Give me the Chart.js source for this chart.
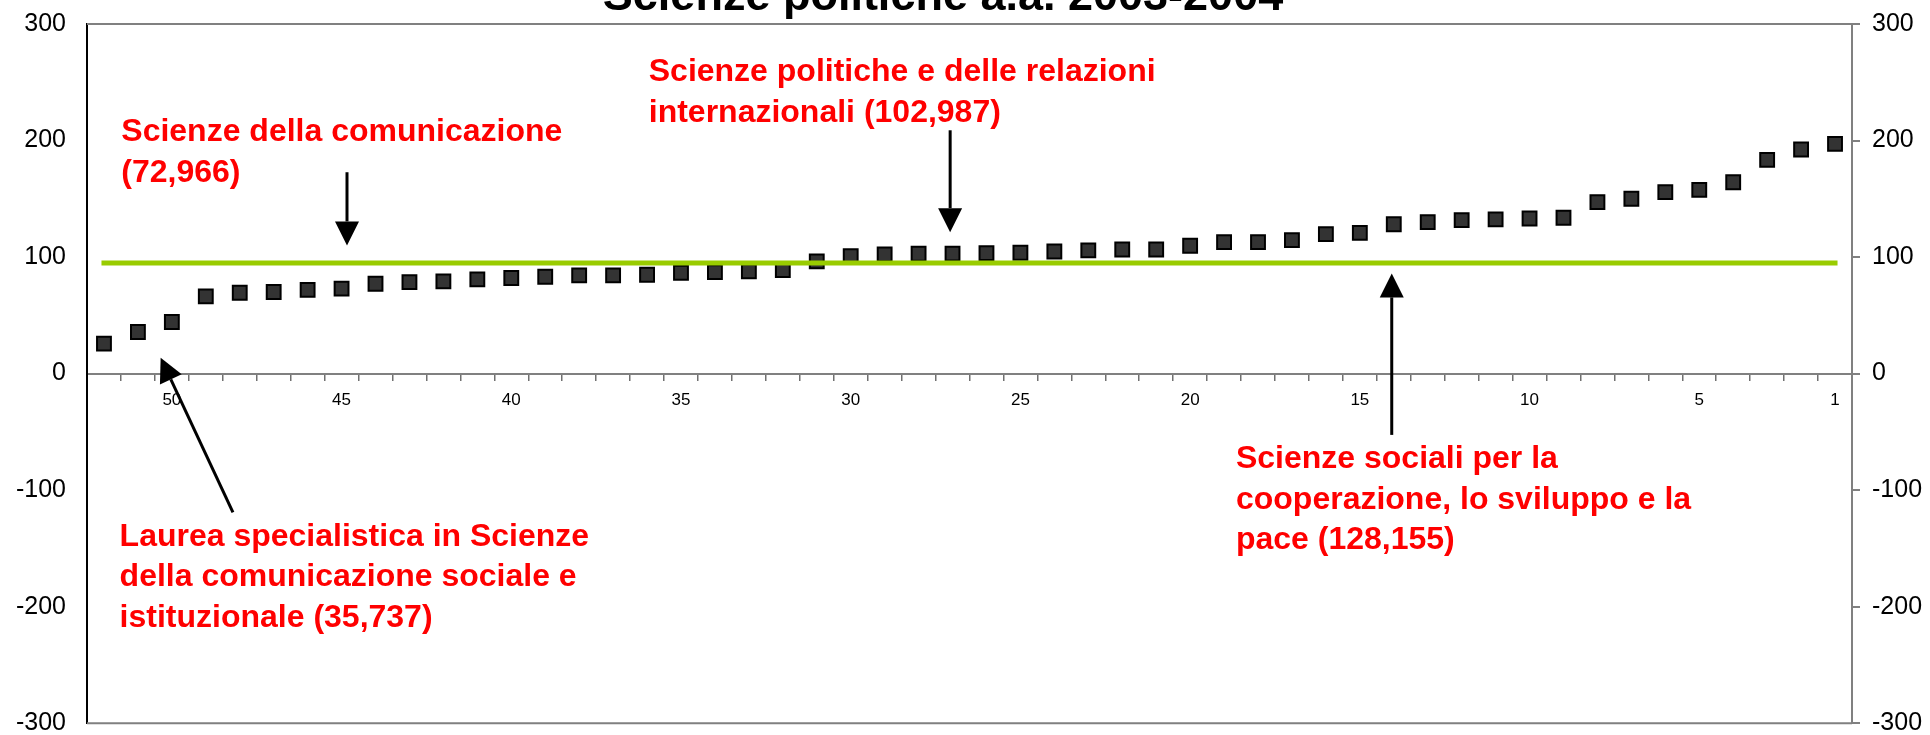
<!DOCTYPE html>
<html>
<head>
<meta charset="utf-8">
<script src="https://cdn.jsdelivr.net/npm/chart.js@4.4.1/dist/chart.umd.min.js"></script>
<style>
  html, body { margin: 0; padding: 0; background: #fff; }
</style>
</head>
<body>
<canvas id="myCanvas" width="1930" height="735"></canvas>
<script>
// ranks, from last (52) to first (1)
const ranks = ['52', '51', '50', '49', '48', '47', '46', '45', '44', '43', '42', '41', '40',
  '39', '38', '37', '36', '35', '34', '33', '32', '31', '30', '29', '28', '27', '26', '25',
  '24', '23', '22', '21', '20', '19', '18', '17', '16', '15', '14', '13', '12', '11', '10',
  '9', '8', '7', '6', '5', '4', '3', '2', '1'];
const values = [25.7, 35.737, 44.3, 66.3, 69.4, 70.0, 71.9, 72.966, 77.1, 78.5, 79.1, 80.8, 82.0,
  83.1, 84.3, 84.3, 84.8, 86.5, 87.1, 87.7, 88.8, 96.3, 100.8, 102.3, 102.8, 102.987, 103.4, 103.7,
  104.8, 105.7, 106.5, 106.5, 109.7, 112.8, 112.8, 114.5, 119.7, 120.8, 128.155, 130.0, 131.7, 132.3, 133.1,
  133.7, 147.1, 150.0, 155.7, 157.7, 164.2, 183.4, 192.3, 197.1];
const refValue = 95;
const xTickLabels = ['50', '45', '40', '35', '30', '25', '20', '15', '10', '5', '1'];
const yTicks = [-300, -200, -100, 0, 100, 200, 300];
const titleText = 'Scienze politiche a.a. 2003-2004';

// notes: position in [category index, value]
const notes = [
  { lines: ['Scienze della comunicazione', '(72,966)'], at: [0.51, 199.4] },
  { lines: ['Scienze politiche e delle relazioni', 'internazionali (102,987)'], at: [16.05, 250.8] },
  { lines: ['Laurea specialistica in Scienze', 'della comunicazione sociale e', 'istituzionale (35,737)'], at: [0.46, -147.8] },
  { lines: ['Scienze sociali per la', 'cooperazione, lo sviluppo e la', 'pace (128,155)'], at: [33.35, -81.4] }
];
const arrows = [
  { from: [7.16, 172.8], to: [7.16, 110.0] },
  { from: [24.93, 208.8], to: [24.93, 121.4] },
  { from: [3.80, -119.1], to: [1.67, 13.7] },
  { from: [37.94, -52.6], to: [37.94, 86.0] }
];

const FONT = "'Liberation Sans', Arial, sans-serif";

function drawArrow(ctx, x1, y1, x2, y2) {
  const a = Math.atan2(y2 - y1, x2 - x1);
  const hl = 24, hw = 12;
  const bx = x2 - hl * Math.cos(a), by = y2 - hl * Math.sin(a);
  ctx.beginPath();
  ctx.moveTo(x1, y1);
  ctx.lineTo(bx, by);
  ctx.stroke();
  ctx.beginPath();
  ctx.moveTo(x2, y2);
  ctx.lineTo(bx + hw * Math.sin(a), by - hw * Math.cos(a));
  ctx.lineTo(bx - hw * Math.sin(a), by + hw * Math.cos(a));
  ctx.closePath();
  ctx.fill();
}

const decor = {
  id: 'decor',
  beforeDatasetsDraw(chart) {
    const { ctx, chartArea: ca } = chart;
    ctx.save();
    ctx.strokeStyle = '#808080';
    ctx.lineWidth = 2;
    ctx.beginPath();
    ctx.moveTo(ca.left, ca.top);
    ctx.lineTo(ca.right, ca.top);
    ctx.moveTo(ca.left, ca.bottom);
    ctx.lineTo(ca.right, ca.bottom);
    ctx.stroke();
    ctx.restore();
  },
  afterDraw(chart) {
    const { ctx, scales } = chart;
    const px = p => [scales.x.getPixelForValue(p[0]), scales.y.getPixelForValue(p[1])];
    ctx.save();
    ctx.fillStyle = '#000';
    ctx.font = 'bold 45px ' + FONT;
    ctx.textAlign = 'center';
    ctx.textBaseline = 'alphabetic';
    ctx.fillText(titleText, 943, 10);

    ctx.fillStyle = '#FF0000';
    ctx.font = 'bold 32px ' + FONT;
    ctx.textAlign = 'left';
    notes.forEach(n => {
      const [x, y] = px(n.at);
      n.lines.forEach((l, i) => ctx.fillText(l, x, y + i * 40.5));
    });

    ctx.strokeStyle = '#000';
    ctx.fillStyle = '#000';
    ctx.lineWidth = 3;
    arrows.forEach(a => {
      const [x1, y1] = px(a.from);
      const [x2, y2] = px(a.to);
      drawArrow(ctx, x1, y1, x2, y2);
    });
    ctx.restore();
  }
};

const yAxisBase = {
  type: 'linear',
  min: -300,
  max: 300,
  afterBuildTicks: s => { s.ticks = yTicks.map(v => ({ value: v })); },
  ticks: { color: '#000', font: { family: FONT, size: 25 } }
};

new Chart(document.getElementById('myCanvas'), {
  data: {
    labels: ranks,
    datasets: [
      {
        type: 'line',
        data: [{ x: ranks[0], y: refValue }, { x: ranks[ranks.length - 1], y: refValue }],
        borderColor: '#99CC00',
        borderWidth: 5,
        borderCapStyle: 'square',
        pointRadius: 0
      },
      {
        type: 'scatter',
        data: values,
        showLine: false,
        pointStyle: 'rect',
        pointRadius: 9.8,
        pointBorderWidth: 2,
        pointBackgroundColor: '#333333',
        pointBorderColor: '#000000'
      }
    ]
  },
  options: {
    responsive: false,
    animation: false,
    layout: { padding: { top: 24, bottom: 10.5, left: 0, right: 0 } },
    plugins: { legend: false, tooltip: { enabled: false } },
    scales: {
      x: {
        type: 'category',
        labels: ranks,
        offset: true,
        position: { y: 0 },
        grid: { offset: true, drawOnChartArea: false, drawTicks: true, tickLength: 6, color: '#707070', lineWidth: 1.5 },
        border: { display: true, color: '#808080', width: 2 },
        ticks: {
          autoSkip: false,
          maxRotation: 0,
          padding: 11,
          color: '#000',
          font: { family: FONT, size: 17 },
          callback: function (v) {
            const lab = this.getLabelForValue(v);
            return xTickLabels.includes(lab) ? lab : '';
          }
        },
        afterFit: s => { s.paddingLeft = 0; s.paddingRight = 0; }
      },
      y: {
        ...yAxisBase,
        position: 'left',
        grid: { drawOnChartArea: false, drawTicks: false },
        border: { display: true, color: '#000', width: 2 },
        ticks: { ...yAxisBase.ticks, padding: 21 },
        afterFit: s => { s.width = 87; s.paddingTop = 0; s.paddingBottom = 0; }
      },
      y2: {
        ...yAxisBase,
        position: 'right',
        grid: { drawOnChartArea: false, drawTicks: true, tickLength: 8, color: '#808080', lineWidth: 2 },
        border: { display: true, color: '#808080', width: 2 },
        ticks: { ...yAxisBase.ticks, padding: 12 },
        afterFit: s => { s.width = 78; s.paddingTop = 0; s.paddingBottom = 0; }
      }
    }
  },
  plugins: [decor]
});
</script>
</body>
</html>
